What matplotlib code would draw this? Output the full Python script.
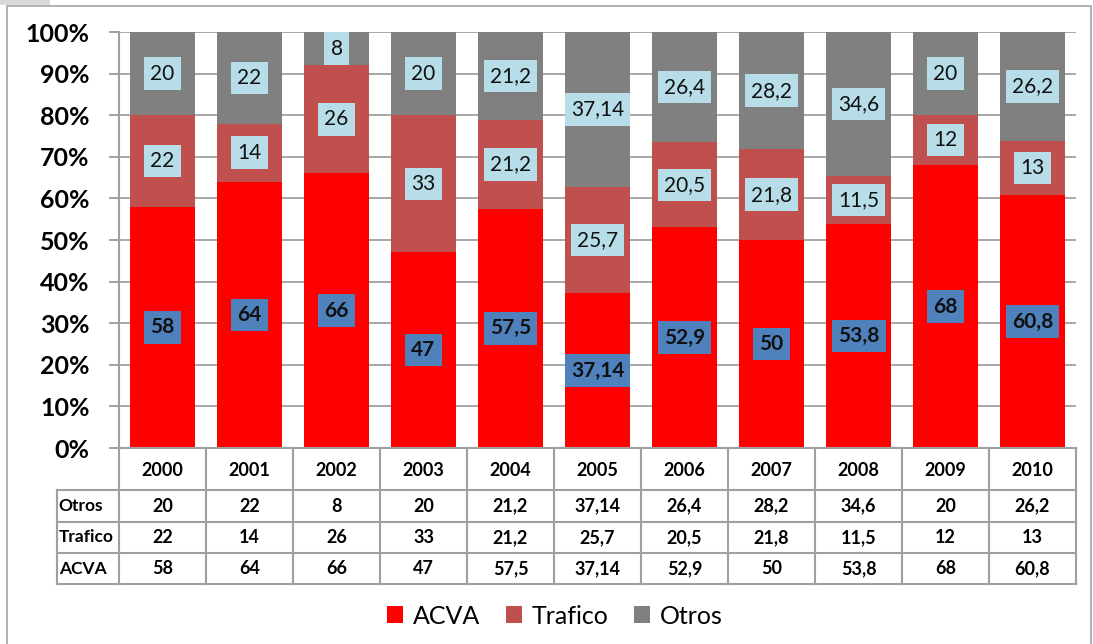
import matplotlib
matplotlib.use('Agg')
import matplotlib.pyplot as plt
from matplotlib.patches import Patch, Rectangle

years = ['2000', '2001', '2002', '2003', '2004', '2005', '2006', '2007', '2008', '2009', '2010']
acva = [58, 64, 66, 47, 57.5, 37.14, 52.9, 50, 53.8, 68, 60.8]
trafico = [22, 14, 26, 33, 21.2, 25.7, 20.5, 21.8, 11.5, 12, 13]
otros = [20, 22, 8, 20, 21.2, 37.14, 26.4, 28.2, 34.6, 20, 26.2]
series_names = ['ACVA', 'Trafico', 'Otros']
colors = ['#ff0000', '#c0504d', '#808080']


def fmt(v):
    s = ('%g' % v)
    return s.replace('.', ',')


FONT = 'Lato'
plt.rcParams['font.family'] = [FONT, 'DejaVu Sans']

W, H = 1093, 644
fig = plt.figure(figsize=(W / 100, H / 100), dpi=100)
fig.patch.set_facecolor('white')

# outer chart border
fig.add_artist(Rectangle((7 / W, -0.01), (1091 - 7) / W, 1 - 6 / H + 0.01,
                         transform=fig.transFigure, fill=False,
                         edgecolor='#a6a6a6', lw=1.2))
fig.add_artist(Rectangle((0, 1 - 5 / H), 50 / W, 5 / H, transform=fig.transFigure,
                         facecolor='#d9d9d9', edgecolor='none'))

ax = fig.add_axes([119 / W, 1 - 448 / H, (1076 - 119) / W, (448 - 32) / H])
ax.set_xlim(-0.5, len(years) - 0.5)
ax.set_ylim(0, 100)

x = list(range(len(years)))
data = [acva, trafico, otros]
totals = [a + b + c for a, b, c in zip(acva, trafico, otros)]
pcts = [[v / t * 100 for v, t in zip(s, totals)] for s in data]

bottom = [0] * len(years)
for k, (vals, pc, col) in enumerate(zip(data, pcts, colors)):
    ax.bar(x, pc, bottom=bottom, width=0.75, color=col, zorder=2,
           label=series_names[k])
    for i in range(len(years)):
        yc = bottom[i] + pc[i] / 2
        if k == 0:
            ax.text(x[i], yc, fmt(vals[i]), ha='center', va='center',
                    fontsize=15, fontweight='bold', color='#111111', zorder=4,
                    bbox=dict(boxstyle='square,pad=0.3', fc='#4f81bd', ec='none'))
        else:
            ax.text(x[i], yc, fmt(vals[i]), ha='center', va='center',
                    fontsize=15, color='#111111', zorder=4, clip_on=True,
                    bbox=dict(boxstyle='square,pad=0.3', fc='#b7dee8', ec='none'))
    bottom = [b + p for b, p in zip(bottom, pc)]

ax.set_yticks(range(0, 101, 10))
ax.set_yticklabels([f'{t}%' for t in range(0, 101, 10)], fontsize=18,
                   fontweight='bold')
ax.tick_params(axis='y', length=7, color='#999999', width=1.3, pad=14)
ax.set_xticks([])
ax.yaxis.grid(True, color='#a0a0a0', lw=1.3, zorder=0)
ax.set_axisbelow(True)
for s in ['top', 'right']:
    ax.spines[s].set_visible(False)
for s in ['left', 'bottom']:
    ax.spines[s].set_color('#a0a0a0')
    ax.spines[s].set_linewidth(1.5)

# data table
lw_col = 62 / 87
tax = fig.add_axes([57 / W, 1 - 584 / H, (1076 - 57) / W, (584 - 448) / H])
xl = -0.5 - lw_col
tax.set_xlim(xl, len(years) - 0.5)
tax.set_ylim(584, 448)
tax.axis('off')
lc = '#a0a0a0'
for i in range(len(years) + 1):
    tax.plot([i - 0.5, i - 0.5], [448, 584], color=lc, lw=1.5, clip_on=False)
tax.plot([xl, xl], [490, 584], color=lc, lw=1.5, clip_on=False)
for yy in [490, 521.5, 553, 584]:
    tax.plot([xl, len(years) - 0.5], [yy, yy], color=lc, lw=1.5, clip_on=False)

for i, yr in enumerate(years):
    tax.text(i, 470, yr, ha='center', va='center', fontsize=13, fontweight='bold')
rows = [('Otros', otros), ('Trafico', trafico), ('ACVA', acva)]
row_y = [506, 537.5, 569]
for (name, vals), yy in zip(rows, row_y):
    tax.text(xl + 0.02, yy, name, ha='left', va='center', fontsize=12.5,
             fontweight='bold')
    for i, v in enumerate(vals):
        tax.text(i, yy, fmt(v), ha='center', va='center', fontsize=13,
                 fontweight='bold')

handles = [Patch(facecolor=c, edgecolor='none') for c in colors]
fig.legend(handles, series_names, loc='center', bbox_to_anchor=(555 / W, 1 - 616 / H),
           ncol=3, frameon=False, fontsize=18, handlelength=0.65, handleheight=0.65,
           handletextpad=0.4, columnspacing=1.0)

fig.savefig('out.png', dpi=100, facecolor='white')
